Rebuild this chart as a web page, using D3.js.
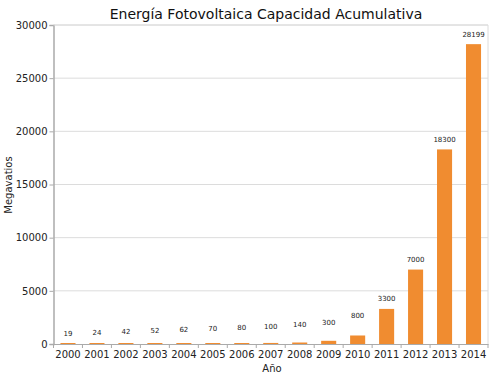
<!DOCTYPE html>
<html>
<head>
<meta charset="utf-8">
<script src="https://cdn.jsdelivr.net/npm/d3@7"></script>
<style>
  body { margin: 0; background: white; }
  svg { font-family: "DejaVu Sans", sans-serif; }
</style>
</head>
<body>
<script>
// data
const years = ["2000","2001","2002","2003","2004","2005","2006","2007","2008","2009","2010","2011","2012","2013","2014"]
const megawatts = [19, 24, 42, 52, 62, 70, 80, 100, 140, 300, 800, 3300, 7000, 18300, 28199]
const yTicks = [0, 5000, 10000, 15000, 20000, 25000, 30000]

const w = 500
const h = 375
const m = {top: 25, right: 12, bottom: 31, left: 53.5}

const svg = d3.select("body")
              .append("svg")
              .attr("width", w)
              .attr("height", h)

const xScale = d3.scaleBand()
                 .domain(years)
                 .range([m.left, w - m.right])
                 .paddingInner(0.48)
                 .paddingOuter(0.24)
const yScale = d3.scaleLinear()
                 .domain([0, 30000])
                 .range([h - m.bottom, m.top])

// grid
svg.append("g")
   .selectAll("line")
   .data(yTicks.slice(1))
   .enter()
   .append("line")
   .attr("x1", m.left)
   .attr("x2", w - m.right)
   .attr("y1", d => yScale(d))
   .attr("y2", d => yScale(d))
   .attr("stroke", "#dcdcdc")
   .attr("stroke-width", 1)

// right border
svg.append("line")
   .attr("x1", w - m.right).attr("x2", w - m.right)
   .attr("y1", m.top).attr("y2", h - m.bottom)
   .attr("stroke", "#dcdcdc")

// bars
svg.selectAll("rect.bar")
   .data(megawatts)
   .enter()
   .append("rect")
   .attr("class", "bar")
   .attr("x", (d, i) => xScale(years[i]))
   .attr("width", xScale.bandwidth())
   .attr("y", d => Math.min(yScale(d), h - m.bottom - 1))
   .attr("height", d => Math.max(yScale(0) - yScale(d), 1))
   .attr("fill", "#f08c30")

// value labels
svg.selectAll("text.val")
   .data(megawatts)
   .enter()
   .append("text")
   .attr("class", "val")
   .attr("x", (d, i) => xScale(years[i]) + xScale.bandwidth() / 2)
   .attr("y", (d, i) => {
      let barH = yScale(0) - yScale(d)
      let lift = barH < 15 ? 10 + i * 0.95 : 10
      return yScale(d) - lift + 2.5
   })
   .attr("text-anchor", "middle")
   .attr("font-size", "7px")
   .attr("fill", "#222")
   .text(d => d)

// axes
const xAxis = d3.axisBottom(xScale).tickSize(0).tickPadding(7)
const yAxis = d3.axisLeft(yScale).tickValues(yTicks).tickFormat(d3.format("d")).tickSize(4).tickPadding(2)

const gx = svg.append("g")
   .attr("transform", "translate(0," + (h - m.bottom) + ")")
   .call(xAxis)
gx.select(".domain").attr("stroke", "#aaa")
gx.selectAll("text").attr("font-size", "10px").attr("fill", "#222").attr("font-family", "DejaVu Sans")

// category separators
gx.selectAll("line.sep")
  .data(d3.range(years.length + 1))
  .enter()
  .append("line")
  .attr("class", "sep")
  .attr("x1", i => m.left + i * (w - m.right - m.left) / years.length)
  .attr("x2", i => m.left + i * (w - m.right - m.left) / years.length)
  .attr("y1", 0)
  .attr("y2", 4)
  .attr("stroke", "#aaa")

const gy = svg.append("g")
   .attr("transform", "translate(" + m.left + ",0)")
   .call(yAxis)
gy.select(".domain").attr("stroke", "#aaa").attr("stroke-width", 1.5)
gy.selectAll("line").attr("stroke", "#aaa")
gy.selectAll("text").attr("font-size", "10px").attr("fill", "#222").attr("font-family", "DejaVu Sans")

// top border
svg.append("line")
   .attr("x1", m.left).attr("x2", w - m.right)
   .attr("y1", m.top).attr("y2", m.top)
   .attr("stroke", "#dcdcdc")

// titles
svg.append("text")
   .attr("x", 266)
   .attr("y", 19)
   .attr("text-anchor", "middle")
   .attr("font-size", "14px")
   .attr("fill", "#111")
   .text("Energía Fotovoltaica Capacidad Acumulativa")

svg.append("text")
   .attr("x", 272)
   .attr("y", 372)
   .attr("text-anchor", "middle")
   .attr("font-size", "10px")
   .attr("fill", "#222")
   .text("Año")

svg.append("text")
   .attr("transform", "translate(12," + 185 + ") rotate(-90)")
   .attr("text-anchor", "middle")
   .attr("font-size", "10px")
   .attr("fill", "#222")
   .text("Megavatios")
</script>
</body>
</html>
